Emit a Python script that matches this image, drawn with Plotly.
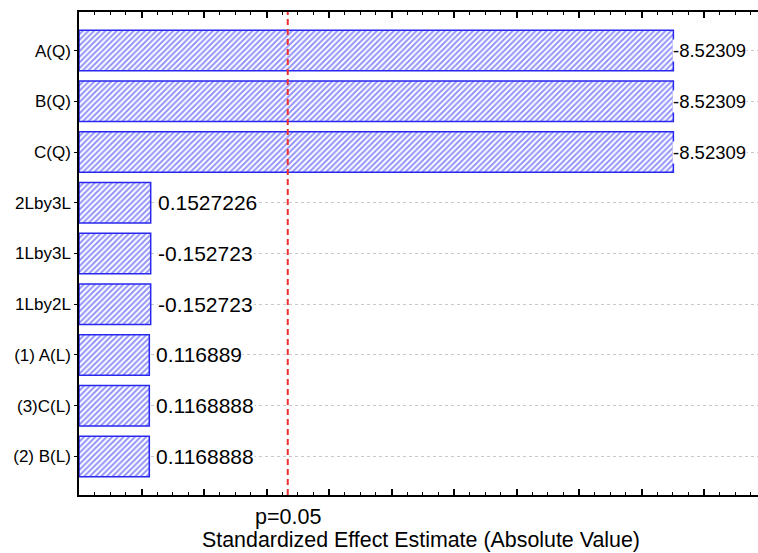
import plotly.graph_objects as go

# Data (top to bottom)
categories = ["A(Q)", "B(Q)", "C(Q)", "2Lby3L", "1Lby3L", "1Lby2L",
              "(1) A(L)", "(3)C(L)", "(2) B(L)"]
bar_lengths = [9.51, 9.51, 9.51, 1.147, 1.147, 1.147, 1.125, 1.125, 1.125]
value_labels = ["-8.52309", "-8.52309", "-8.52309", "0.1527226", "-0.152723",
                "-0.152723", "0.116889", "0.1168888", "0.1168888"]
p_value = 3.34
p_label = "p=0.05"
x_title = "Standardized Effect Estimate (Absolute Value)"

BLUE = "#2828f0"
FONT = "Liberation Sans, Arial, sans-serif"

fig = go.Figure()
fig.add_trace(go.Bar(
    x=bar_lengths, y=categories, orientation="h", width=0.8,
    marker=dict(color="white",
                line=dict(color=BLUE, width=1.5),
                pattern=dict(shape="/", fgcolor=BLUE, bgcolor="white",
                             size=4, solidity=0.5)),
    hoverinfo="skip", showlegend=False,
))

annotations = []
for cat, length, lab in zip(categories, bar_lengths, value_labels):
    big = length > 5
    annotations.append(dict(
        x=length, y=cat, xref="x", yref="y", text=lab, showarrow=False,
        xanchor="left", yanchor="middle", xshift=-1 if big else 6,
        bgcolor="white", borderpad=0,
        font=dict(size=18.5 if big else 21, color="black", family=FONT)))

annotations.append(dict(x=p_value, y=-0.045, xref="x", yref="paper",
                        text=p_label, showarrow=False, xanchor="center",
                        yanchor="middle",
                        font=dict(size=21.5, color="black", family=FONT)))
annotations.append(dict(x=0.504, y=-0.093, xref="paper", yref="paper",
                        text=x_title, showarrow=False, xanchor="center",
                        yanchor="middle",
                        font=dict(size=21.4, color="black", family=FONT)))

fig.add_shape(type="line", x0=p_value, x1=p_value, y0=0, y1=1,
              xref="x", yref="paper",
              line=dict(color="#f03030", width=2, dash="6px,4px"), layer="above")

fig.update_layout(
    width=758, height=553,
    margin=dict(l=79, r=0, t=12, b=58),
    paper_bgcolor="white", plot_bgcolor="white",
    font=dict(family=FONT, color="black"),
    annotations=annotations,
    xaxis=dict(range=[0, 10.864], showticklabels=False, showgrid=False,
               zeroline=False, showline=True, linecolor="black", linewidth=1.5,
               mirror="ticks", ticks="inside", ticklen=6, tickwidth=1.5,
               tickcolor="black", dtick=1, tick0=0,
               minor=dict(ticks="inside", ticklen=3, dtick=0.25,
                          tickcolor="black", tickwidth=1, showgrid=False)),
    yaxis=dict(type="category", categoryorder="array", categoryarray=categories,
               range=[8.76, -0.76], showline=True, linecolor="black",
               linewidth=1.5, ticks="outside", ticklen=3, tickcolor="black",
               showgrid=True, gridcolor="#c8c8c8", griddash="dot", gridwidth=1,
               zeroline=False, tickfont=dict(size=17, color="black", family=FONT),
               ticklabelstandoff=0),
)

fig.write_html("out.html", config={"displayModeBar": False})

# remove the default body margin so the figure fills the window exactly
with open("out.html", "r", encoding="utf-8") as f:
    html = f.read()
html = html.replace("<head>", "<head><style>html,body{margin:0;padding:0;overflow:hidden;}</style>", 1)
with open("out.html", "w", encoding="utf-8") as f:
    f.write(html)
